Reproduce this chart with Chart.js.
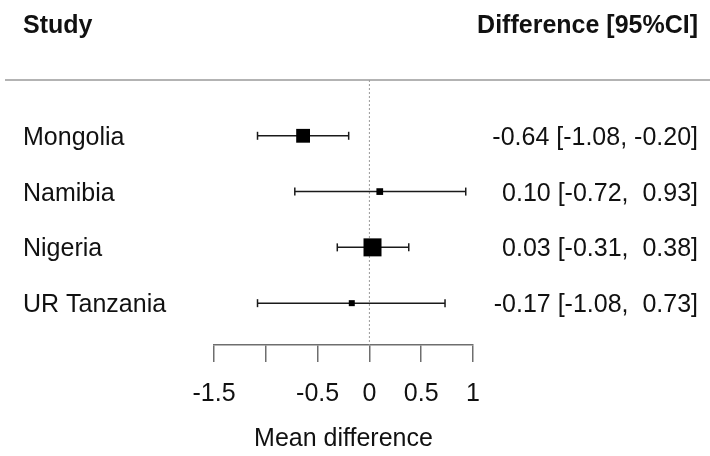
<!DOCTYPE html>
<html>
<head>
<meta charset="utf-8">
<script src="https://cdn.jsdelivr.net/npm/chart.js@4/dist/chart.umd.min.js"></script>
<style>
  html, body { margin: 0; padding: 0; background: #fff; }
  canvas { display: block; }
</style>
</head>
<body>
<canvas id="forest" width="710" height="456"></canvas>
<script>
// Study estimates (mean difference with 95% CI)
const studies = ['Mongolia', 'Namibia', 'Nigeria', 'UR Tanzania'];
const estimates = [-0.64, 0.10, 0.03, -0.17];
const ciLower = [-1.08, -0.72, -0.31, -1.08];
const ciUpper = [-0.20, 0.93, 0.38, 0.73];

// x axis ticks (the -1 label is dropped, as in the base R axis)
const xTicks = [-1.5, -1, -0.5, 0, 0.5, 1];
const xTickLabels = ['-1.5', '', '-0.5', '0', '0.5', '1'];

const FONT = '"Liberation Sans", Arial, sans-serif';
const rows = studies.map((_, i) => studies.length - i);   // top row first
const yTop = studies.length + 1;                          // header rule
const yBottom = 0.25;

// square size follows the precision of each estimate (1/SE), scaled 0.5..1.5
const invSe = ciLower.map((lo, i) => 3.92 / (ciUpper[i] - lo));
const sMin = Math.min(...invSe), sMax = Math.max(...invSe);
const sideOf = i => 12 * (0.5 + (invSe[i] - sMin) / (sMax - sMin));

const fmt = v => v.toFixed(2).padStart(5, ' ');

const ciSets = studies.map((s, i) => ({
  label: s,
  data: [{ x: ciLower[i], y: rows[i] }, { x: ciUpper[i], y: rows[i] }],
  showLine: true,
  borderColor: '#1a1a1a',
  borderWidth: 1.5,
  pointStyle: 'line',
  pointRotation: 90,
  pointRadius: 4,
  pointBorderColor: '#1a1a1a',
  pointBorderWidth: 1.5,
  order: 1,
  clip: false
}));

const forestText = {
  id: 'forestText',
  beforeDraw(chart) {
    const { ctx, width, scales: { y } } = chart;
    ctx.save();
    ctx.fillStyle = '#fff';
    ctx.fillRect(0, 0, width, chart.height);
    // rule under the header
    ctx.strokeStyle = '#9a9a9a';
    ctx.lineWidth = 1.5;
    ctx.beginPath();
    ctx.moveTo(5, y.getPixelForValue(yTop));
    ctx.lineTo(width, y.getPixelForValue(yTop));
    ctx.stroke();
    ctx.restore();
  },
  afterDraw(chart) {
    const { ctx, scales: { y } } = chart;
    ctx.save();
    ctx.fillStyle = '#111';
    ctx.font = 'bold 25px ' + FONT;
    ctx.textAlign = 'left';
    ctx.fillText('Study', 23, 33);
    ctx.textAlign = 'right';
    ctx.fillText('Difference [95%CI]', 698, 33);

    ctx.font = '25px ' + FONT;
    studies.forEach((s, i) => {
      const py = y.getPixelForValue(rows[i]) + 9;
      ctx.textAlign = 'left';
      ctx.fillText(s, 23, py);
      ctx.textAlign = 'right';
      ctx.fillText(fmt(estimates[i]) + ' [' + fmt(ciLower[i]) + ', ' + fmt(ciUpper[i]) + ']', 698, py);
    });
    ctx.restore();
  }
};

new Chart(document.getElementById('forest'), {
  type: 'scatter',
  data: {
    datasets: [
      {
        label: 'estimate',
        data: estimates.map((e, i) => ({ x: e, y: rows[i] })),
        pointStyle: 'rect',
        pointRadius: studies.map((_, i) => sideOf(i) / Math.SQRT2),
        backgroundColor: '#000',
        borderWidth: 0,
        order: 0,
        clip: false
      },
      ...ciSets,
      {
        label: 'no effect',
        data: [{ x: 0, y: yTop }, { x: 0, y: yBottom }],
        showLine: true,
        borderColor: '#999',
        borderWidth: 1,
        borderDash: [2, 2],
        pointRadius: 0,
        order: 2,
        clip: false
      }
    ]
  },
  options: {
    responsive: false,
    animation: false,
    events: [],
    layout: { padding: { left: 214, right: 237, top: 80, bottom: 0 } },
    plugins: { legend: { display: false }, tooltip: { enabled: false } },
    scales: {
      x: {
        type: 'linear',
        min: -1.5,
        max: 1,
        afterBuildTicks: s => { s.ticks = xTicks.map(v => ({ value: v })); },
        ticks: {
          autoSkip: false,
          maxRotation: 0,
          padding: 17,
          color: '#111',
          font: { family: FONT, size: 25, lineHeight: 1.2 },
          callback: v => xTickLabels[xTicks.indexOf(v)]
        },
        grid: {
          drawOnChartArea: false,
          drawTicks: true,
          tickLength: 17,
          color: '#6e6e6e',
          lineWidth: 1.5
        },
        border: { display: true, color: '#6e6e6e', width: 1.5 },
        title: {
          display: true,
          text: 'Mean difference',
          color: '#111',
          font: { family: FONT, size: 25, lineHeight: 1 },
          padding: { top: 1, bottom: 4 }
        }
      },
      y: { type: 'linear', min: yBottom, max: yTop, display: false }
    }
  },
  plugins: [forestText]
});
</script>
</body>
</html>
